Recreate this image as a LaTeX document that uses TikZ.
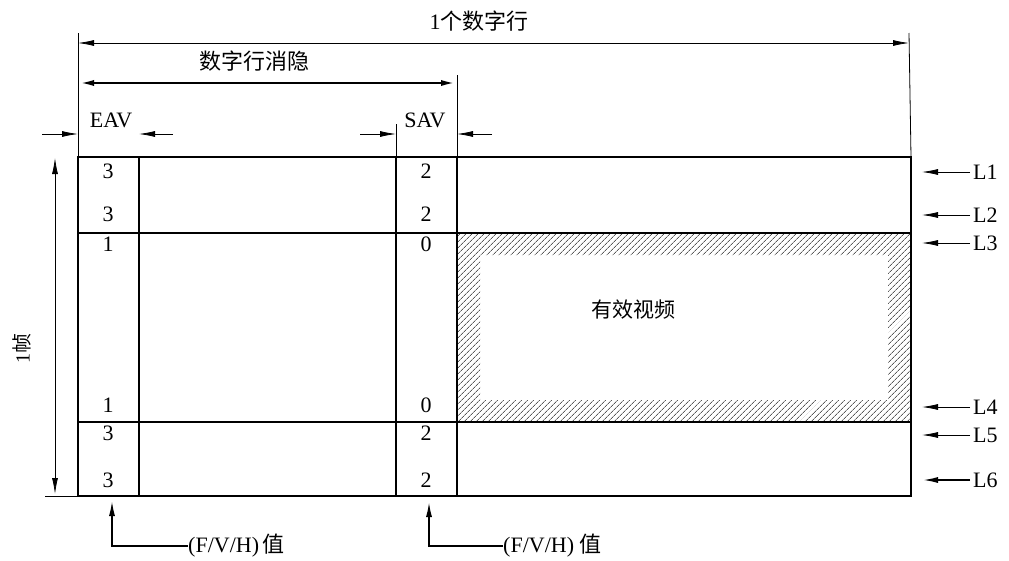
\documentclass[tikz,border=0pt]{standalone}
\usepackage{fontspec}
\setmainfont{Liberation Serif}
\newfontfamily\cjk{Noto Sans CJK SC}
\usetikzlibrary{arrows.meta,patterns.meta}
\begin{document}
\begin{tikzpicture}[x=1pt,y=-1pt,
    boxline/.style={line width=2.2pt},
    dimline/.style={line width=0.8pt},
    dimarrow/.style={-{Latex[length=16pt,width=6pt]}},
    digit/.style={font=\fontsize{22}{22}\selectfont,inner sep=0pt},
    hanzi/.style={font=\fontsize{22}{22}\selectfont\cjk,inner sep=0pt}]
  \useasboundingbox (0,0) rectangle (1009,560);
  % frame and grid points
  \coordinate (tl) at (78,157);
  \coordinate (tr) at (911,157);
  \coordinate (bl) at (78,496);
  \coordinate (br) at (911,496);
  \coordinate (ea) at (139,157);
  \coordinate (eb) at (139,496);
  \coordinate (sa) at (396,157);
  \coordinate (sb) at (396,496);
  \coordinate (va) at (457,157);
  \coordinate (vb) at (457,496);
  \coordinate (h1) at (78,233);
  \coordinate (h2) at (911,233);
  \coordinate (h3) at (78,422);
  \coordinate (h4) at (911,422);
  % active video
  \coordinate (av1) at (457,233);
  \coordinate (av2) at (911,422);
  \coordinate (in1) at (480,255);
  \coordinate (in2) at (888,400);
  \fill[pattern={Lines[angle=45,distance=4pt,line width=0.5pt]},even odd rule]
    (av1) rectangle (av2) (in1) rectangle (in2);
  \node[hanzi,font=\fontsize{21}{21}\selectfont\cjk] (act) at (633,310) {有效视频};
  \begin{scope}[boxline]
    \draw (tl) rectangle (br);
    \draw (ea) -- (eb);
    \draw (sa) -- (sb);
    \draw (va) -- (vb);
    \draw (h1) -- (h2);
    \draw (h3) -- (h4);
  \end{scope}
  % XY values
  \foreach \y/\a/\b [count=\i] in {171/3/2,214/3/2,244/1/0,405/1/0,433/3/2,480/3/2}{
    \node[digit] (e\i) at (108,\y) {\a};
    \node[digit] (s\i) at (426,\y) {\b};
  }
  % line labels
  \foreach \y [count=\i] in {172,215,243,407,435,480}{
    \coordinate (r\i) at (922,\y);
    \node[digit,anchor=west,inner xsep=3pt] (L\i) at (970,\y) {L\i};
  }
  \begin{scope}[dimline,dimarrow]
    \foreach \i in {1,...,5} \draw (L\i.west) -- (r\i);
    \draw[line width=2pt] (L6.west) -- (r6);
  \end{scope}
  % extension lines
  \coordinate (x1) at (78,33);
  \coordinate (x2) at (909,33);
  \coordinate (x3) at (457,75);
  \coordinate (x4) at (396,124);
  \coordinate (x5) at (45,496);
  \begin{scope}[dimline]
    \draw (x1) -- (tl);
    \draw (x2) -- (tr);
    \draw (x3) -- (va);
    \draw (x4) -- (sa);
    \draw (x5) -- (bl);
  \end{scope}
  % dimensions
  \coordinate (d1) at (78,43);
  \coordinate (d2) at (909,43);
  \coordinate (d3) at (78,83);
  \coordinate (d4) at (457,83);
  \coordinate (f1) at (55,158);
  \coordinate (f2) at (55,494);
  \draw[dimline,{Latex[length=16pt,width=6pt]}-{Latex[length=16pt,width=6pt]}] (d1) -- (d2);
  \draw[line width=2.5pt,{Latex[length=16pt,width=6pt]}-{Latex[length=16pt,width=6pt]}] (d3) -- (d4);
  \draw[dimline,{Latex[length=16pt,width=6pt]}-{Latex[length=16pt,width=6pt]}] (f1) -- (f2);
  \node[hanzi] (line) at (479,21) {\fontsize{22}{22}\selectfont\rmfamily 1\cjk 个数字行};
  \node[hanzi] (blank) at (254,61) {数字行消隐};
  \node[hanzi,rotate=90] (field) at (22,348) {\fontsize{20}{20}\selectfont\rmfamily 1\cjk 帧};
  % EAV / SAV
  \node[digit] (eav) at (111,120) {EAV};
  \node[digit] (sav) at (425,120) {SAV};
  \coordinate (a1) at (42,134);
  \coordinate (a2) at (78,134);
  \coordinate (a3) at (173,134);
  \coordinate (a4) at (139,134);
  \coordinate (a5) at (360,134);
  \coordinate (a6) at (396,134);
  \coordinate (a7) at (492,134);
  \coordinate (a8) at (457,134);
  \begin{scope}[dimline,dimarrow]
    \draw (a1) -- (a2);
    \draw (a3) -- (a4);
    \draw (a5) -- (a6);
    \draw (a7) -- (a8);
  \end{scope}
  % F/V/H callouts
  \node[digit,anchor=west] (fvh1) at (188,546) {(F/V/H)\,{\cjk 值}};
  \node[digit,anchor=west] (fvh2) at (503,546) {(F/V/H) {\cjk 值}};
  \coordinate (p1) at (112,500);
  \coordinate (p2) at (429,501);
  \draw[line width=2pt,dimarrow] (fvh1.west) -| (p1);
  \draw[line width=2pt,dimarrow] (fvh2.west) -| (p2);
\end{tikzpicture}
\end{document}
